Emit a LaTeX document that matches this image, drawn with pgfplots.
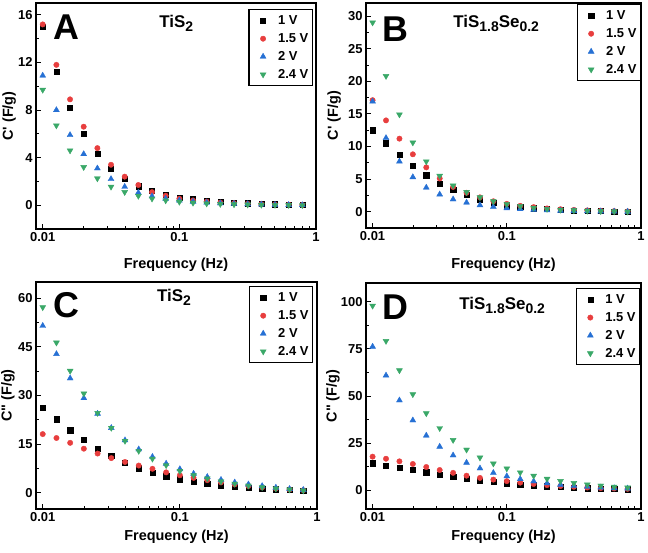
\documentclass[border=0pt]{standalone}
\usepackage{pgfplots}
\pgfplotsset{compat=1.18}
\usepackage{pgfplotstable}
\usepackage{fontspec}
\setmainfont{Liberation Sans}
\definecolor{cred}{RGB}{232,62,62}
\definecolor{cblue}{RGB}{38,112,212}
\definecolor{cgreen}{RGB}{58,168,104}
\newcommand\sub[1]{\raisebox{-3.5bp}{\fontsize{14}{14}\selectfont #1}}

\pgfplotstableread{
f v1 v15 v2 v24
0.01 15.0 15.2 10.9 9.7
0.01259 11.2 11.8 8.0 6.7
0.01585 8.2 8.9 5.9 4.6
0.01995 6.0 6.6 4.3 3.2
0.02512 4.35 4.8 3.1 2.25
0.03162 3.1 3.4 2.2 1.55
0.03981 2.25 2.4 1.55 1.1
0.05012 1.6 1.7 1.05 0.78
0.0631 1.2 1.1 0.75 0.55
0.07943 0.9 0.8 0.55 0.4
0.1 0.65 0.55 0.4 0.28
0.1259 0.5 0.4 0.3 0.2
0.1585 0.38 0.3 0.22 0.14
0.1995 0.3 0.22 0.16 0.1
0.2512 0.22 0.17 0.12 0.07
0.3162 0.17 0.12 0.09 0.05
0.3981 0.12 0.09 0.06 0.03
0.5012 0.08 0.06 0.04 0.02
0.631 0.05 0.04 0.03 0.01
0.7943 0.02 0.02 0.01 0.0
}\tabA

\pgfplotstableread{
f v1 v15 v2 v24
0.01 12.5 17.1 16.9 29.0
0.01259 10.5 14.0 11.3 20.8
0.01585 8.7 11.2 7.7 14.9
0.01995 7.05 8.8 5.3 10.6
0.02512 5.6 6.8 3.7 7.7
0.03162 4.35 5.1 2.65 5.5
0.03981 3.4 3.8 1.9 4.0
0.05012 2.6 2.9 1.4 3.0
0.0631 1.9 2.2 1.0 2.2
0.07943 1.4 1.6 0.75 1.6
0.1 1.0 1.2 0.55 1.15
0.1259 0.75 0.9 0.4 0.85
0.1585 0.55 0.7 0.3 0.6
0.1995 0.4 0.5 0.22 0.42
0.2512 0.3 0.38 0.16 0.3
0.3162 0.2 0.28 0.12 0.2
0.3981 0.15 0.2 0.08 0.13
0.5012 0.1 0.14 0.05 0.08
0.631 0.05 0.09 0.03 0.04
0.7943 0.02 0.05 0.01 0.0
}\tabB

\pgfplotstableread{
f v1 v15 v2 v24
0.01 26.2 18.1 51.5 57.2
0.01259 22.7 16.9 42.8 46.3
0.01585 19.3 15.4 35.3 37.6
0.01995 16.3 13.6 29.2 30.6
0.02512 13.5 12.1 24.4 24.6
0.03162 11.4 10.7 20.0 20.0
0.03981 9.3 9.5 16.2 16.0
0.05012 7.6 8.4 13.4 12.9
0.0631 6.3 7.4 11.1 10.5
0.07943 5.1 6.3 9.0 8.5
0.1 4.2 5.4 7.3 6.7
0.1259 3.5 4.6 5.9 5.4
0.1585 2.8 3.9 4.9 4.4
0.1995 2.3 3.2 4.0 3.5
0.2512 1.9 2.6 3.2 2.8
0.3162 1.6 2.1 2.6 2.2
0.3981 1.3 1.7 2.1 1.7
0.5012 1.1 1.3 1.6 1.3
0.631 0.9 1.0 1.2 1.0
0.7943 0.7 0.8 0.9 0.7
}\tabC

\pgfplotstableread{
f v1 v15 v2 v24
0.01 14.3 17.8 76.2 97.9
0.01259 13.0 16.7 60.9 79.2
0.01585 12.0 15.3 47.7 63.6
0.01995 10.9 13.9 37.1 50.9
0.02512 9.5 12.3 29.0 40.8
0.03162 8.3 10.7 23.1 32.9
0.03981 7.2 9.2 18.5 26.6
0.05012 6.0 7.7 14.6 21.5
0.0631 5.1 6.5 11.6 17.3
0.07943 4.4 5.6 9.2 14.1
0.1 3.7 4.8 7.4 11.5
0.1259 3.1 4.0 5.9 9.4
0.1585 2.6 3.3 4.7 7.6
0.1995 2.1 2.7 3.7 6.0
0.2512 1.7 2.2 2.9 4.8
0.3162 1.4 1.8 2.3 3.8
0.3981 1.1 1.4 1.8 3.0
0.5012 0.9 1.1 1.4 2.4
0.631 0.7 0.9 1.1 1.8
0.7943 0.5 0.7 0.9 1.4
}\tabD

\pgfplotsset{
  panel/.style={
    scale only axis, anchor=north west,
    xmin=0.00893, xmax=1,
    xtick={0.01,0.1,1}, xticklabels={0.01,0.1,1},
    minor y tick num=1,
    tick pos=left,
    major tick length=5bp, minor tick length=3bp,
    axis line style={line width=1.2bp},
    every tick/.style={line width=0.9bp, black},
    /pgf/number format/assume math mode=true,
    tick label style={font=\fontsize{13}{13}\selectfont\bfseries},
    label style={font=\fontsize{14.5}{14.5}\selectfont\bfseries},
    xlabel={Frequency (Hz)},
    legend cell align=left,
    legend style={anchor=north east, draw=black, line width=1.2bp, fill=white,
      font=\fontsize{13}{13}\selectfont\bfseries,
      inner xsep=3bp, inner ysep=5bp, row sep=5.4bp,
      nodes={inner sep=1bp}},
  },
  mylegimg/.style={legend image code/.code={\path[draw=none,fill=none] (-11bp,-2bp) rectangle (14bp,2bp);
      \draw[##1, line width=0.4bp] plot coordinates {(0bp,0bp)};}},
  s1/.style={only marks, mark=square*, mark size=2.6bp, color=black, mylegimg},
  s2/.style={only marks, mark=*, mark size=2.7bp, color=cred, mylegimg},
  s3/.style={only marks, mark=triangle*, mark size=3.4bp, color=cblue, mylegimg},
  s4/.style={only marks, mark=triangle*, mark size=3.4bp, color=cgreen, mark options={rotate=180}, mylegimg},
}
\tikzset{letter/.style={anchor=north west, inner sep=0pt, font=\fontsize{36}{36}\selectfont\bfseries},
  ttl/.style={anchor=base west, inner sep=0pt, font=\fontsize{17}{17}\selectfont\bfseries}}

\begin{document}
\begin{tikzpicture}
\path[use as bounding box] (0,0) rectangle (648bp,-553bp);

% A
\begin{semilogxaxis}[panel, at={(36bp,-3bp)}, width=280bp, height=226bp,
  ymin=-2, ymax=17, ytick={0,4,8,12,16},
  ylabel={C\textquotesingle{} (F/g)},
  xlabel style={at={(axis description cs:0.5,-0.159)}, anchor=center},
  ylabel style={at={(axis description cs:-0.096,0.5)}, anchor=center},
  legend style={at={(axis description cs:0.989,0.973)}}]
\addplot[s1] table[x=f,y=v1] {\tabA};
\addplot[s2] table[x=f,y=v15] {\tabA};
\addplot[s3] table[x=f,y=v2] {\tabA};
\addplot[s4] table[x=f,y=v24] {\tabA};
\legend{1 V,1.5 V,2 V,2.4 V}
\node[letter] at (axis description cs:0.061,0.947) {A};
\node[ttl] at (axis description cs:0.44,0.891) {TiS\sub{2}};
\end{semilogxaxis}

% B
\begin{semilogxaxis}[panel, at={(366bp,-3bp)}, width=275bp, height=225bp,
  ymin=-2.5, ymax=32, ytick={0,5,10,15,20,25,30},
  ylabel={C\textquotesingle{} (F/g)},
  xlabel style={at={(axis description cs:0.5,-0.164)}, anchor=center},
  ylabel style={at={(axis description cs:-0.116,0.5)}, anchor=center},
  legend style={at={(axis description cs:1.0,0.995)}}]
\addplot[s1] table[x=f,y=v1] {\tabB};
\addplot[s2] table[x=f,y=v15] {\tabB};
\addplot[s3] table[x=f,y=v2] {\tabB};
\addplot[s4] table[x=f,y=v24] {\tabB};
\legend{1 V,1.5 V,2 V,2.4 V}
\node[letter] at (axis description cs:0.058,0.939) {B};
\node[ttl] at (axis description cs:0.317,0.89) {TiS\sub{1.8}Se\sub{0.2}};
\end{semilogxaxis}

% C
\begin{semilogxaxis}[panel, at={(36bp,-282bp)}, width=281bp, height=227bp,
  ymin=-5, ymax=65, ytick={0,15,30,45,60},
  ylabel={C\textquotedbl{} (F/g)},
  xlabel style={at={(axis description cs:0.5,-0.122)}, anchor=center},
  ylabel style={at={(axis description cs:-0.1,0.5)}, anchor=center},
  legend style={at={(axis description cs:0.986,0.982)}}]
\addplot[s1] table[x=f,y=v1] {\tabC};
\addplot[s2] table[x=f,y=v15] {\tabC};
\addplot[s3] table[x=f,y=v2] {\tabC};
\addplot[s4] table[x=f,y=v24] {\tabC};
\legend{1 V,1.5 V,2 V,2.4 V}
\node[letter] at (axis description cs:0.061,0.957) {C};
\node[ttl] at (axis description cs:0.43,0.912) {TiS\sub{2}};
\end{semilogxaxis}

% D
\begin{semilogxaxis}[panel, at={(366bp,-283bp)}, width=275bp, height=226bp,
  ymin=-10, ymax=110, ytick={0,25,50,75,100},
  ylabel={C\textquotedbl{} (F/g)},
  xlabel style={at={(axis description cs:0.5,-0.122)}, anchor=center},
  ylabel style={at={(axis description cs:-0.12,0.5)}, anchor=center},
  legend style={at={(axis description cs:0.997,0.978)}}]
\addplot[s1] table[x=f,y=v1] {\tabD};
\addplot[s2] table[x=f,y=v15] {\tabD};
\addplot[s3] table[x=f,y=v2] {\tabD};
\addplot[s4] table[x=f,y=v24] {\tabD};
\legend{1 V,1.5 V,2 V,2.4 V}
\node[letter] at (axis description cs:0.061,0.947) {D};
\node[ttl] at (axis description cs:0.339,0.881) {TiS\sub{1.8}Se\sub{0.2}};
\end{semilogxaxis}
\end{tikzpicture}
\end{document}
